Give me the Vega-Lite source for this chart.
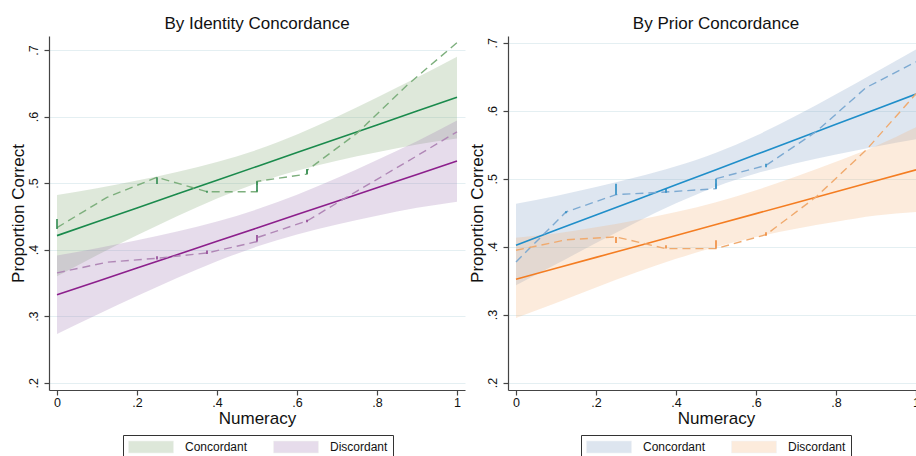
{
  "$schema": "https://vega.github.io/schema/vega-lite/v6.json",
  "padding": {"left": 9, "top": 15, "right": 0, "bottom": 0},
  "background": "white",
  "spacing": 3,
  "config": {
    "font": "Liberation Sans",
    "view": {"stroke": null},
    "title": {"fontSize": 17, "fontWeight": "normal", "color": "#111", "offset": 3},
    "axis": {
      "domainColor": "#444", "tickColor": "#444", "domainWidth": 1.2, "tickWidth": 1.2, "tickSize": 5,
      "labelFontSize": 12.5, "labelColor": "#111", "titleFontSize": 17, "titleFontWeight": "normal", "titleColor": "#111",
      "gridColor": "#e4eff2", "gridWidth": 1
    },
    "legend": {"labelFontSize": 12, "labelColor": "#111"}
  },
  "datasets": {
    "fit": [
      {"p":"L","g":"Concordant","x":0,"fit":0.421,"lo":0.360,"hi":0.482},
      {"p":"L","g":"Concordant","x":0.1,"fit":0.4418,"lo":0.3915,"hi":0.4921},
      {"p":"L","g":"Concordant","x":0.2,"fit":0.4626,"lo":0.4214,"hi":0.5038},
      {"p":"L","g":"Concordant","x":0.3,"fit":0.4834,"lo":0.4502,"hi":0.5166},
      {"p":"L","g":"Concordant","x":0.4,"fit":0.5042,"lo":0.4769,"hi":0.5315},
      {"p":"L","g":"Concordant","x":0.5,"fit":0.525,"lo":0.500,"hi":0.550},
      {"p":"L","g":"Concordant","x":0.6,"fit":0.5458,"lo":0.5185,"hi":0.5731},
      {"p":"L","g":"Concordant","x":0.7,"fit":0.5666,"lo":0.5334,"hi":0.5998},
      {"p":"L","g":"Concordant","x":0.8,"fit":0.5874,"lo":0.5462,"hi":0.6286},
      {"p":"L","g":"Concordant","x":0.9,"fit":0.6082,"lo":0.5579,"hi":0.6585},
      {"p":"L","g":"Concordant","x":1,"fit":0.629,"lo":0.567,"hi":0.690},
      {"p":"L","g":"Discordant","x":0,"fit":0.332,"lo":0.273,"hi":0.391},
      {"p":"L","g":"Discordant","x":0.1,"fit":0.3521,"lo":0.302,"hi":0.4022},
      {"p":"L","g":"Discordant","x":0.2,"fit":0.3722,"lo":0.3303,"hi":0.4141},
      {"p":"L","g":"Discordant","x":0.3,"fit":0.3923,"lo":0.3574,"hi":0.4272},
      {"p":"L","g":"Discordant","x":0.4,"fit":0.4124,"lo":0.3825,"hi":0.4423},
      {"p":"L","g":"Discordant","x":0.5,"fit":0.4325,"lo":0.4045,"hi":0.4605},
      {"p":"L","g":"Discordant","x":0.6,"fit":0.4526,"lo":0.4227,"hi":0.4825},
      {"p":"L","g":"Discordant","x":0.7,"fit":0.4727,"lo":0.4378,"hi":0.5076},
      {"p":"L","g":"Discordant","x":0.8,"fit":0.4928,"lo":0.4509,"hi":0.5347},
      {"p":"L","g":"Discordant","x":0.9,"fit":0.5129,"lo":0.4628,"hi":0.563},
      {"p":"L","g":"Discordant","x":1,"fit":0.533,"lo":0.472,"hi":0.594},
      {"p":"R","g":"Concordant","x":0,"fit":0.402,"lo":0.343,"hi":0.463},
      {"p":"R","g":"Concordant","x":0.1,"fit":0.4243,"lo":0.374,"hi":0.4746},
      {"p":"R","g":"Concordant","x":0.2,"fit":0.4465,"lo":0.4053,"hi":0.4877},
      {"p":"R","g":"Concordant","x":0.3,"fit":0.4688,"lo":0.4356,"hi":0.502},
      {"p":"R","g":"Concordant","x":0.4,"fit":0.491,"lo":0.4637,"hi":0.5183},
      {"p":"R","g":"Concordant","x":0.5,"fit":0.5133,"lo":0.4883,"hi":0.5383},
      {"p":"R","g":"Concordant","x":0.6,"fit":0.5355,"lo":0.5077,"hi":0.5633},
      {"p":"R","g":"Concordant","x":0.7,"fit":0.5578,"lo":0.5229,"hi":0.5927},
      {"p":"R","g":"Concordant","x":0.8,"fit":0.58,"lo":0.5357,"hi":0.6243},
      {"p":"R","g":"Concordant","x":0.9,"fit":0.6023,"lo":0.5474,"hi":0.6572},
      {"p":"R","g":"Concordant","x":1,"fit":0.6245,"lo":0.558,"hi":0.69},
      {"p":"R","g":"Discordant","x":0,"fit":0.352,"lo":0.295,"hi":0.413},
      {"p":"R","g":"Discordant","x":0.1,"fit":0.3681,"lo":0.3169,"hi":0.4193},
      {"p":"R","g":"Discordant","x":0.2,"fit":0.3842,"lo":0.34,"hi":0.4284},
      {"p":"R","g":"Discordant","x":0.3,"fit":0.4003,"lo":0.3619,"hi":0.4387},
      {"p":"R","g":"Discordant","x":0.4,"fit":0.4164,"lo":0.382,"hi":0.4508},
      {"p":"R","g":"Discordant","x":0.5,"fit":0.4325,"lo":0.3995,"hi":0.4655},
      {"p":"R","g":"Discordant","x":0.6,"fit":0.4486,"lo":0.4142,"hi":0.483},
      {"p":"R","g":"Discordant","x":0.7,"fit":0.4647,"lo":0.4263,"hi":0.5031},
      {"p":"R","g":"Discordant","x":0.8,"fit":0.4808,"lo":0.4366,"hi":0.525},
      {"p":"R","g":"Discordant","x":0.9,"fit":0.4969,"lo":0.4457,"hi":0.5481},
      {"p":"R","g":"Discordant","x":1,"fit":0.513,"lo":0.451,"hi":0.5756}
    ],
    "raw": [
      {"p":"L","g":"Concordant","o":1,"x":0,"y":0.433},
      {"p":"L","g":"Concordant","o":2,"x":0.125,"y":0.4785},
      {"p":"L","g":"Concordant","o":3,"x":0.25,"y":0.5086},
      {"p":"L","g":"Concordant","o":4,"x":0.375,"y":0.487},
      {"p":"L","g":"Concordant","o":5,"x":0.5,"y":0.487},
      {"p":"L","g":"Concordant","o":6,"x":0.5,"y":0.5026},
      {"p":"L","g":"Concordant","o":7,"x":0.625,"y":0.5135},
      {"p":"L","g":"Concordant","o":8,"x":0.625,"y":0.519},
      {"p":"L","g":"Concordant","o":9,"x":0.75,"y":0.575},
      {"p":"L","g":"Concordant","o":10,"x":0.875,"y":0.647},
      {"p":"L","g":"Concordant","o":11,"x":1,"y":0.711},
      {"p":"L","g":"Discordant","o":1,"x":0,"y":0.365},
      {"p":"L","g":"Discordant","o":2,"x":0.125,"y":0.381},
      {"p":"L","g":"Discordant","o":3,"x":0.25,"y":0.387},
      {"p":"L","g":"Discordant","o":4,"x":0.375,"y":0.395},
      {"p":"L","g":"Discordant","o":5,"x":0.5,"y":0.412},
      {"p":"L","g":"Discordant","o":6,"x":0.5,"y":0.418},
      {"p":"L","g":"Discordant","o":7,"x":0.625,"y":0.443},
      {"p":"L","g":"Discordant","o":8,"x":0.75,"y":0.488},
      {"p":"L","g":"Discordant","o":9,"x":0.875,"y":0.532},
      {"p":"L","g":"Discordant","o":10,"x":1,"y":0.577},
      {"p":"R","g":"Concordant","o":1,"x":0,"y":0.3775},
      {"p":"R","g":"Concordant","o":2,"x":0.125,"y":0.451},
      {"p":"R","g":"Concordant","o":3,"x":0.25,"y":0.4765},
      {"p":"R","g":"Concordant","o":4,"x":0.375,"y":0.4804},
      {"p":"R","g":"Concordant","o":5,"x":0.5,"y":0.4853},
      {"p":"R","g":"Concordant","o":6,"x":0.5,"y":0.5},
      {"p":"R","g":"Concordant","o":7,"x":0.625,"y":0.5196},
      {"p":"R","g":"Concordant","o":8,"x":0.75,"y":0.569},
      {"p":"R","g":"Concordant","o":9,"x":0.875,"y":0.634},
      {"p":"R","g":"Concordant","o":10,"x":1,"y":0.672},
      {"p":"R","g":"Discordant","o":1,"x":0,"y":0.3946},
      {"p":"R","g":"Discordant","o":2,"x":0.125,"y":0.41},
      {"p":"R","g":"Discordant","o":3,"x":0.25,"y":0.4143},
      {"p":"R","g":"Discordant","o":4,"x":0.375,"y":0.397},
      {"p":"R","g":"Discordant","o":5,"x":0.5,"y":0.397},
      {"p":"R","g":"Discordant","o":6,"x":0.625,"y":0.4176},
      {"p":"R","g":"Discordant","o":7,"x":0.75,"y":0.473},
      {"p":"R","g":"Discordant","o":8,"x":0.875,"y":0.542},
      {"p":"R","g":"Discordant","o":9,"x":1,"y":0.625}
    ],
    "tk": [
      {"p":"L","g":"Concordant","x":0,"y1":0.431,"y2":0.446},
      {"p":"L","g":"Concordant","x":0.25,"y1":0.4985,"y2":0.5086},
      {"p":"L","g":"Concordant","x":0.375,"y1":0.4855,"y2":0.4885},
      {"p":"L","g":"Concordant","x":0.5,"y1":0.487,"y2":0.5026},
      {"p":"L","g":"Concordant","x":0.625,"y1":0.5135,"y2":0.521},
      {"p":"L","g":"Discordant","x":0.25,"y1":0.385,"y2":0.390},
      {"p":"L","g":"Discordant","x":0.375,"y1":0.3935,"y2":0.3985},
      {"p":"L","g":"Discordant","x":0.5,"y1":0.412,"y2":0.422},
      {"p":"L","g":"Discordant","x":0.625,"y1":0.441,"y2":0.445},
      {"p":"R","g":"Concordant","x":0.125,"y1":0.449,"y2":0.452},
      {"p":"R","g":"Concordant","x":0.25,"y1":0.4765,"y2":0.4926},
      {"p":"R","g":"Concordant","x":0.375,"y1":0.4794,"y2":0.4853},
      {"p":"R","g":"Concordant","x":0.5,"y1":0.4853,"y2":0.5},
      {"p":"R","g":"Concordant","x":0.625,"y1":0.517,"y2":0.522},
      {"p":"R","g":"Discordant","x":0.25,"y1":0.4054,"y2":0.4143},
      {"p":"R","g":"Discordant","x":0.375,"y1":0.3971,"y2":0.4019},
      {"p":"R","g":"Discordant","x":0.5,"y1":0.3971,"y2":0.4093},
      {"p":"R","g":"Discordant","x":0.625,"y1":0.416,"y2":0.421}
    ]
  },
  "resolve": {"scale": {"fill": "independent", "stroke": "independent", "y": "independent"}, "legend": {"fill": "independent"}},
  "hconcat": [
    {
      "width": 416, "height": 354,
      "title": "By Identity Concordance",
      "resolve": {"scale": {"stroke": "independent"}},
      "layer": [
        {
          "data": {"name": "fit"},
          "transform": [{"filter": "datum.p == 'L'"}],
          "mark": {"type": "area", "fillOpacity": 0.25, "interpolate": "monotone"},
          "encoding": {
            "x": {"field": "x", "type": "quantitative", "scale": {"domain": [-0.02, 1.02], "nice": false, "zero": false},
                  "axis": {"title": "Numeracy", "values": [0, 0.2, 0.4, 0.6, 0.8, 1], "grid": false, "labelExpr": "datum.value == 0 ? '0' : datum.value == 1 ? '1' : '.' + round(datum.value * 10)", "labelPadding": 1, "titlePadding": 2}},
            "y": {"field": "lo", "type": "quantitative", "scale": {"domain": [0.189, 0.721], "nice": false, "zero": false},
                  "axis": {"title": "Proportion Correct", "values": [0.2, 0.3, 0.4, 0.5, 0.6, 0.7], "labelExpr": "'.' + round(datum.value * 10)", "labelAngle": -90, "labelAlign": "center", "labelBaseline": "bottom", "labelPadding": 4, "titlePadding": 0}},
            "y2": {"field": "hi"},
            "fill": {"field": "g", "type": "nominal", "scale": {"domain": ["Concordant", "Discordant"], "range": ["#7ba36b", "#9b73af"]},
                     "legend": {"title": null, "orient": "none", "legendX": 74, "legendY": 399, "direction": "horizontal",
                                "symbolType": "M-1,-0.2667H1V0.2667H-1Z", "symbolSize": 2025, "symbolOpacity": 0.25, "clipHeight": 14,
                                "symbolStrokeColor": "#c8d4c4", "symbolStrokeWidth": 0.6,
                                "labelOffset": 11, "columnPadding": 25, "padding": 5, "strokeColor": "#333", "fillColor": "white"}}
          }
        },
        {
          "data": {"name": "fit"},
          "transform": [{"filter": "datum.p == 'L'"}],
          "mark": {"type": "line", "strokeWidth": 1.6},
          "encoding": {
            "x": {"field": "x", "type": "quantitative"},
            "y": {"field": "fit", "type": "quantitative"},
            "stroke": {"field": "g", "type": "nominal", "scale": {"domain": ["Concordant", "Discordant"], "range": ["#1a8a4c", "#8c1f8c"]}, "legend": null}
          }
        },
        {
          "data": {"name": "raw"},
          "transform": [{"filter": "datum.p == 'L'"}],
          "mark": {"type": "line", "strokeWidth": 1.4, "strokeDash": [8, 5]},
          "encoding": {
            "x": {"field": "x", "type": "quantitative"},
            "y": {"field": "y", "type": "quantitative"},
            "order": {"field": "o"},
            "stroke": {"field": "g", "type": "nominal", "scale": {"domain": ["Concordant", "Discordant"], "range": ["#7daf7d", "#b087b6"]}, "legend": null}
          }
        },
        {
          "data": {"name": "tk"},
          "transform": [{"filter": "datum.p == 'L'"}],
          "mark": {"type": "rule", "strokeWidth": 1.6},
          "encoding": {
            "x": {"field": "x", "type": "quantitative"},
            "y": {"field": "y1", "type": "quantitative"},
            "y2": {"field": "y2"},
            "stroke": {"field": "g", "type": "nominal", "scale": {"domain": ["Concordant", "Discordant"], "range": ["#2f8a4f", "#8e3f92"]}, "legend": null}
          }
        }
      ]
    },
    {
      "width": 416, "height": 354,
      "title": "By Prior Concordance",
      "resolve": {"scale": {"stroke": "independent"}},
      "layer": [
        {
          "data": {"name": "fit"},
          "transform": [{"filter": "datum.p == 'R'"}],
          "mark": {"type": "area", "fillOpacity": 0.25, "interpolate": "monotone"},
          "encoding": {
            "x": {"field": "x", "type": "quantitative", "scale": {"domain": [-0.02, 1.02], "nice": false, "zero": false},
                  "axis": {"title": "Numeracy", "values": [0, 0.2, 0.4, 0.6, 0.8, 1], "grid": false, "labelExpr": "datum.value == 0 ? '0' : datum.value == 1 ? '1' : '.' + round(datum.value * 10)", "labelPadding": 1, "titlePadding": 2}},
            "y": {"field": "lo", "type": "quantitative", "scale": {"domain": [0.189, 0.71], "nice": false, "zero": false},
                  "axis": {"title": "Proportion Correct", "values": [0.2, 0.3, 0.4, 0.5, 0.6, 0.7], "labelExpr": "'.' + round(datum.value * 10)", "labelAngle": -90, "labelAlign": "center", "labelBaseline": "bottom", "labelPadding": 4, "titlePadding": 0}},
            "y2": {"field": "hi"},
            "fill": {"field": "g", "type": "nominal", "scale": {"domain": ["Concordant", "Discordant"], "range": ["#7b9bc3", "#f3af73"]},
                     "legend": {"title": null, "orient": "none", "legendX": 73, "legendY": 399, "direction": "horizontal",
                                "symbolType": "M-1,-0.2667H1V0.2667H-1Z", "symbolSize": 2025, "symbolOpacity": 0.25, "clipHeight": 14,
                                "symbolStrokeColor": "#c4d0dc", "symbolStrokeWidth": 0.6,
                                "labelOffset": 11, "columnPadding": 25, "padding": 5, "strokeColor": "#333", "fillColor": "white"}}
          }
        },
        {
          "data": {"name": "fit"},
          "transform": [{"filter": "datum.p == 'R'"}],
          "mark": {"type": "line", "strokeWidth": 1.6},
          "encoding": {
            "x": {"field": "x", "type": "quantitative"},
            "y": {"field": "fit", "type": "quantitative"},
            "stroke": {"field": "g", "type": "nominal", "scale": {"domain": ["Concordant", "Discordant"], "range": ["#1f8ec9", "#f47d22"]}, "legend": null}
          }
        },
        {
          "data": {"name": "raw"},
          "transform": [{"filter": "datum.p == 'R'"}],
          "mark": {"type": "line", "strokeWidth": 1.4, "strokeDash": [8, 5]},
          "encoding": {
            "x": {"field": "x", "type": "quantitative"},
            "y": {"field": "y", "type": "quantitative"},
            "order": {"field": "o"},
            "stroke": {"field": "g", "type": "nominal", "scale": {"domain": ["Concordant", "Discordant"], "range": ["#7daad2", "#f0aa6e"]}, "legend": null}
          }
        },
        {
          "data": {"name": "tk"},
          "transform": [{"filter": "datum.p == 'R'"}],
          "mark": {"type": "rule", "strokeWidth": 1.6},
          "encoding": {
            "x": {"field": "x", "type": "quantitative"},
            "y": {"field": "y1", "type": "quantitative"},
            "y2": {"field": "y2"},
            "stroke": {"field": "g", "type": "nominal", "scale": {"domain": ["Concordant", "Discordant"], "range": ["#2a8cc4", "#ef8a3a"]}, "legend": null}
          }
        }
      ]
    }
  ]
}
